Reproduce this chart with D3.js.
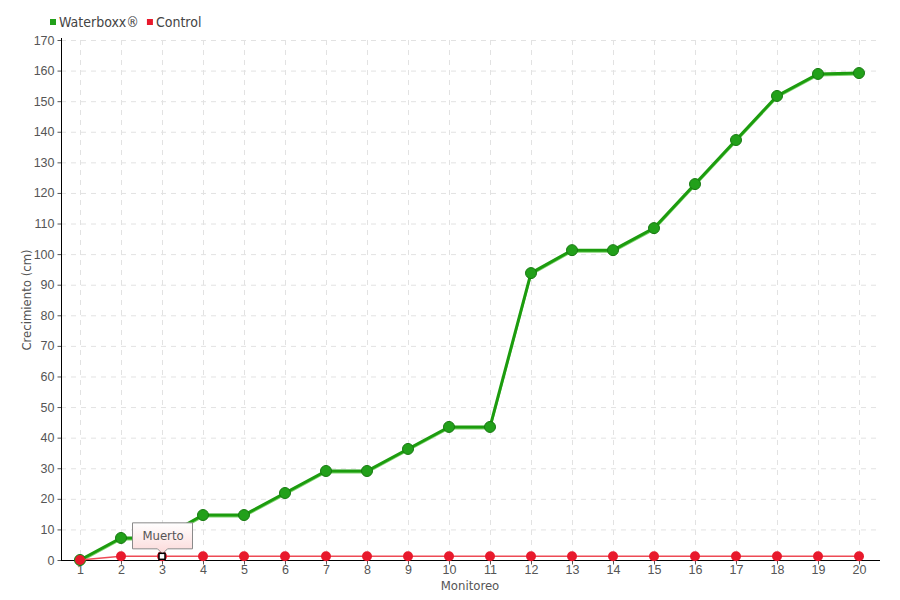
<!DOCTYPE html>
<html>
<head>
<meta charset="utf-8">
<script src="https://cdn.jsdelivr.net/npm/d3@7"></script>
<style>
  body { margin: 0; background: #fff; }
  svg { font-family: "DejaVu Sans", sans-serif; font-stretch: condensed; }
</style>
</head>
<body>
<svg id="chart" width="900" height="600"></svg>
<script>
const monitoreo = d3.range(1, 21);
const waterboxx = [0, 7.2, 7.2, 14.7, 14.7, 21.9, 29.1, 29.1, 36.3, 43.5, 43.5, 93.8, 101.3, 101.3, 108.5, 122.9, 137.3, 151.7, 158.9, 159.2];
const control = [0, 1.2, 1.2, 1.2, 1.2, 1.2, 1.2, 1.2, 1.2, 1.2, 1.2, 1.2, 1.2, 1.2, 1.2, 1.2, 1.2, 1.2, 1.2, 1.2];
const yTicks = d3.range(0, 171, 10);
const annotation = { index: 2, label: 'Muerto' };

const svg = d3.select('#chart');
const plotLeft = 61, plotRight = 880, plotTop = 40, plotBottom = 560;

const x = d3.scaleLinear().domain([1, 20]).range([80, 859]);
const y = d3.scaleLinear().domain([0, 170]).range([plotBottom, plotTop]);

// grid
const grid = svg.append('g').attr('stroke', '#e2e2e2').attr('stroke-dasharray', '5,5').attr('stroke-width', 1);
grid.selectAll('.h').data(yTicks.slice(1)).enter().append('line')
    .attr('x1', plotLeft).attr('x2', plotRight)
    .attr('y1', d => y(d) + 0.5).attr('y2', d => y(d) + 0.5);
grid.selectAll('.v').data(monitoreo).enter().append('line')
    .attr('x1', d => x(d) + 0.5).attr('x2', d => x(d) + 0.5)
    .attr('y1', plotTop).attr('y2', plotBottom);

// axes
const yAxis = svg.append('g').attr('transform', `translate(${plotLeft + 0.5},0)`)
    .call(d3.axisLeft(y).tickValues(yTicks).tickSize(4).tickPadding(3));
const xAxis = svg.append('g').attr('transform', `translate(0,${plotBottom + 0.5})`)
    .call(d3.axisBottom(x).tickValues(monitoreo).tickSize(4).tickPadding(1).tickFormat(d3.format('d')));
[yAxis, xAxis].forEach((a) => {
  a.select('.domain').remove();
  a.selectAll('line').attr('stroke', '#555');
  a.selectAll('text').attr('fill', '#555').style('font-size', '12.5px');
});
svg.append('line').attr('x1', plotLeft + 0.5).attr('x2', plotLeft + 0.5).attr('y1', plotTop - 2).attr('y2', plotBottom + 1).attr('stroke', '#000');
svg.append('line').attr('x1', plotLeft).attr('x2', plotRight).attr('y1', plotBottom + 0.5).attr('y2', plotBottom + 0.5).attr('stroke', '#000');

// titles
svg.append('text').attr('x', 470).attr('y', 590).attr('text-anchor', 'middle')
    .attr('fill', '#555').style('font-size', '13px').text('Monitoreo');
svg.append('text').attr('transform', 'translate(31,300) rotate(-90)').attr('text-anchor', 'middle')
    .attr('fill', '#555').style('font-size', '13px').text('Crecimiento (cm)');

// lines
const line = d3.line().x((d, i) => x(monitoreo[i])).y(d => y(d));

svg.append('path').datum(waterboxx).attr('d', line).attr('fill', 'none')
    .attr('stroke', '#7cd26c').attr('stroke-width', 2).attr('transform', 'translate(0,1.5)');
svg.append('path').datum(waterboxx).attr('d', line).attr('fill', 'none')
    .attr('stroke', '#1c9c0e').attr('stroke-width', 3);
svg.selectAll('.gdot').data(waterboxx).enter().append('circle')
    .attr('cx', (d, i) => x(monitoreo[i])).attr('cy', d => y(d)).attr('r', 5.5)
    .attr('fill', '#22a01a').attr('stroke', '#167a10').attr('stroke-width', 1);

svg.append('path').datum(control).attr('d', line).attr('fill', 'none')
    .attr('stroke', '#ee4a55').attr('stroke-width', 1.5);
svg.selectAll('.rdot').data(control).enter().append('circle')
    .attr('cx', (d, i) => x(monitoreo[i])).attr('cy', d => y(d)).attr('r', 5)
    .attr('fill', '#e8192c');

// annotation
const ax = x(monitoreo[annotation.index]);
const ay = y(control[annotation.index]);
const defs = svg.append('defs');
const grad = defs.append('linearGradient').attr('id', 'tipGrad').attr('x1', 0).attr('x2', 0).attr('y1', 0).attr('y2', 1);
grad.append('stop').attr('offset', '0%').attr('stop-color', '#ffffff');
grad.append('stop').attr('offset', '100%').attr('stop-color', '#fcd9d9');
const bw = 60, bh = 26, by = ay - 34;
svg.append('path')
    .attr('d', `M${ax - bw / 2 + 0.5},${by + 0.5} h${bw} v${bh} h${-bw / 2 + 5} l-5,5 l-5,-5 h${-bw / 2 + 5} Z`)
    .attr('fill', 'url(#tipGrad)').attr('stroke', '#8a8a8a').attr('stroke-width', 1);
svg.append('text').attr('x', ax + 1).attr('y', by + 18).attr('text-anchor', 'middle')
    .attr('fill', '#555').style('font-size', '13px').text(annotation.label);
svg.append('rect').attr('x', ax - 3).attr('y', ay - 3).attr('width', 6).attr('height', 6)
    .attr('fill', '#fff').attr('stroke', '#000').attr('stroke-width', 1.5);

// legend
const legend = [
  { name: 'Waterboxx®', color: '#22a01a' },
  { name: 'Control', color: '#e8192c' },
];
const lg = svg.append('g').attr('transform', 'translate(50,22)');
let lx = 0;
legend.forEach((d) => {
  lg.append('rect').attr('x', lx).attr('y', -3).attr('width', 6).attr('height', 6).attr('fill', d.color);
  const t = lg.append('text').attr('x', lx + 9).attr('y', 4.5).attr('fill', '#444')
      .style('font-size', '14px').text(d.name);
  lx += 9 + t.node().getComputedTextLength() + 8;
});
</script>
</body>
</html>
